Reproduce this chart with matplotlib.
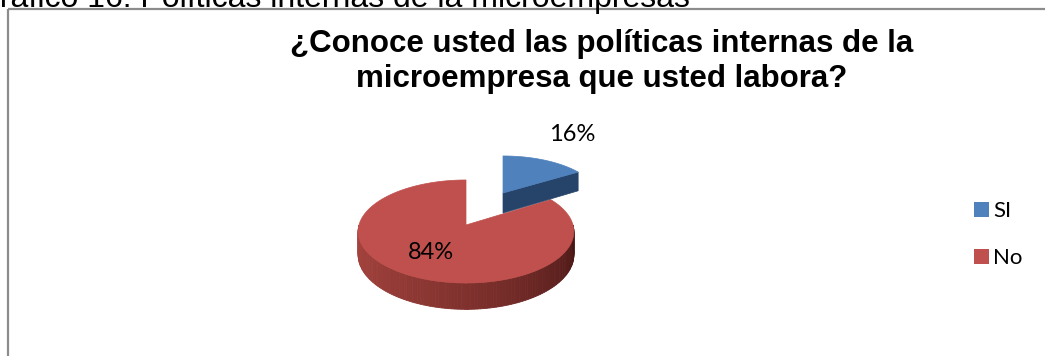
import numpy as np
import matplotlib
matplotlib.use("Agg")
import matplotlib.pyplot as plt
from matplotlib.patches import Polygon, Rectangle
from matplotlib.colors import to_rgb

# data
categories = ["SI", "No"]
values = [16, 84]
title_lines = ["¿Conoce usted las políticas internas de la",
               "microempresa que usted labora?"]
caption = "Gráfico 16: Políticas internas de la microempresas"

top_colors = ["#4F81BD", "#C0504D"]
face_colors = ["#26446A", "#8E3734"]

W, H = 1045, 356
fig = plt.figure(figsize=(W / 100, H / 100), dpi=100)
ax = fig.add_axes([0, 0, 1, 1])
ax.set_xlim(0, W)
ax.set_ylim(H, 0)
ax.axis("off")

# caption above the chart box, cut off by the page edge
ax.text(-25, 7, caption, fontsize=23, family="Liberation Sans",
        ha="left", va="baseline", color="black")

# chart frame
ax.add_patch(Rectangle((8, 9), W + 20, H + 20, fill=False,
                       edgecolor="#8c8c8c", lw=1.6))

for i, line in enumerate(title_lines):
    ax.text(602, 52 + i * 35, line, fontsize=22.5, family="Liberation Sans",
            weight="bold", ha="center", va="baseline")

# pie geometry (pixels): center offset, radii, depth; p = perspective
base = (466, 225)
P = 0.126
geom = [
    dict(off=(37, -32), rx=95, ry=41.7, d=20),
    dict(off=(0, 0), rx=107, ry=50.7, d=23),
]


def rim(g, t):
    t = np.radians(t)
    cx = base[0] + g["off"][0]
    cy = base[1] + g["off"][1]
    k = 1 + P * np.sin(t)
    x = cx + g["rx"] * np.cos(t) / k
    y = cy - g["ry"] * np.sin(t) / k
    return x, y


def depth(g, t):
    return g["d"] / (1 + P * np.sin(np.radians(t)))


total = sum(values)
angles = []
start = 90.0
for v in values:
    end = start - 360.0 * v / total
    angles.append((start, end))
    start = end


def lerp(c1, c2, f):
    a, b = np.array(to_rgb(c1)), np.array(to_rgb(c2))
    return a + (b - a) * f


# big slice first, the exploded small one drawn on top of it
for i in [1, 0]:
    g = geom[i]
    t1, t2 = angles[i]
    cx = base[0] + g["off"][0]
    cy = base[1] + g["off"][1]

    # outer side wall on the front half
    lo, hi = max(min(t1, t2), -180), min(max(t1, t2), 0)
    if hi > lo:
        ts = np.linspace(lo, hi, 120)
        for k in range(len(ts) - 1):
            xa, ya = rim(g, ts[k])
            xb, yb = rim(g, ts[k + 1])
            f = (ts[k] + 180) / 180
            col = lerp("#A8443F", "#441513", f ** 1.3)
            ax.add_patch(Polygon([(xa, ya), (xb, yb),
                                  (xb, yb + depth(g, ts[k + 1])),
                                  (xa, ya + depth(g, ts[k]))],
                                 closed=True, facecolor=col, edgecolor=col, lw=0.6))

    # cut face toward the viewer (lower radial edge of the small slice)
    if i == 0:
        xe, ye = rim(g, t2)
        de = depth(g, t2)
        ax.add_patch(Polygon([(cx, cy), (xe, ye), (xe, ye + de), (cx, cy + g["d"])],
                             closed=True, facecolor=face_colors[i],
                             edgecolor=face_colors[i], lw=0.5))

    ts = np.linspace(t1, t2, 200)
    xs, ys = rim(g, ts)
    pts = [(cx, cy)] + list(zip(xs, ys))
    ax.add_patch(Polygon(pts, closed=True, facecolor=top_colors[i],
                         edgecolor=top_colors[i], lw=0.5))

# percentage labels
label_pos = [(572, 141), (431, 259)]
for i, v in enumerate(values):
    ax.text(label_pos[i][0], label_pos[i][1], f"{v}%", fontsize=17,
            family="Lato", ha="center", va="baseline")

# legend
for i, name in enumerate(categories):
    y0 = 202 + i * 47
    ax.add_patch(Rectangle((974, y0), 15, 15, facecolor=top_colors[i],
                           edgecolor="none"))
    ax.text(993, y0 + 15, name, fontsize=16, family="Lato",
            ha="left", va="baseline")

fig.savefig("out.png", dpi=100)
